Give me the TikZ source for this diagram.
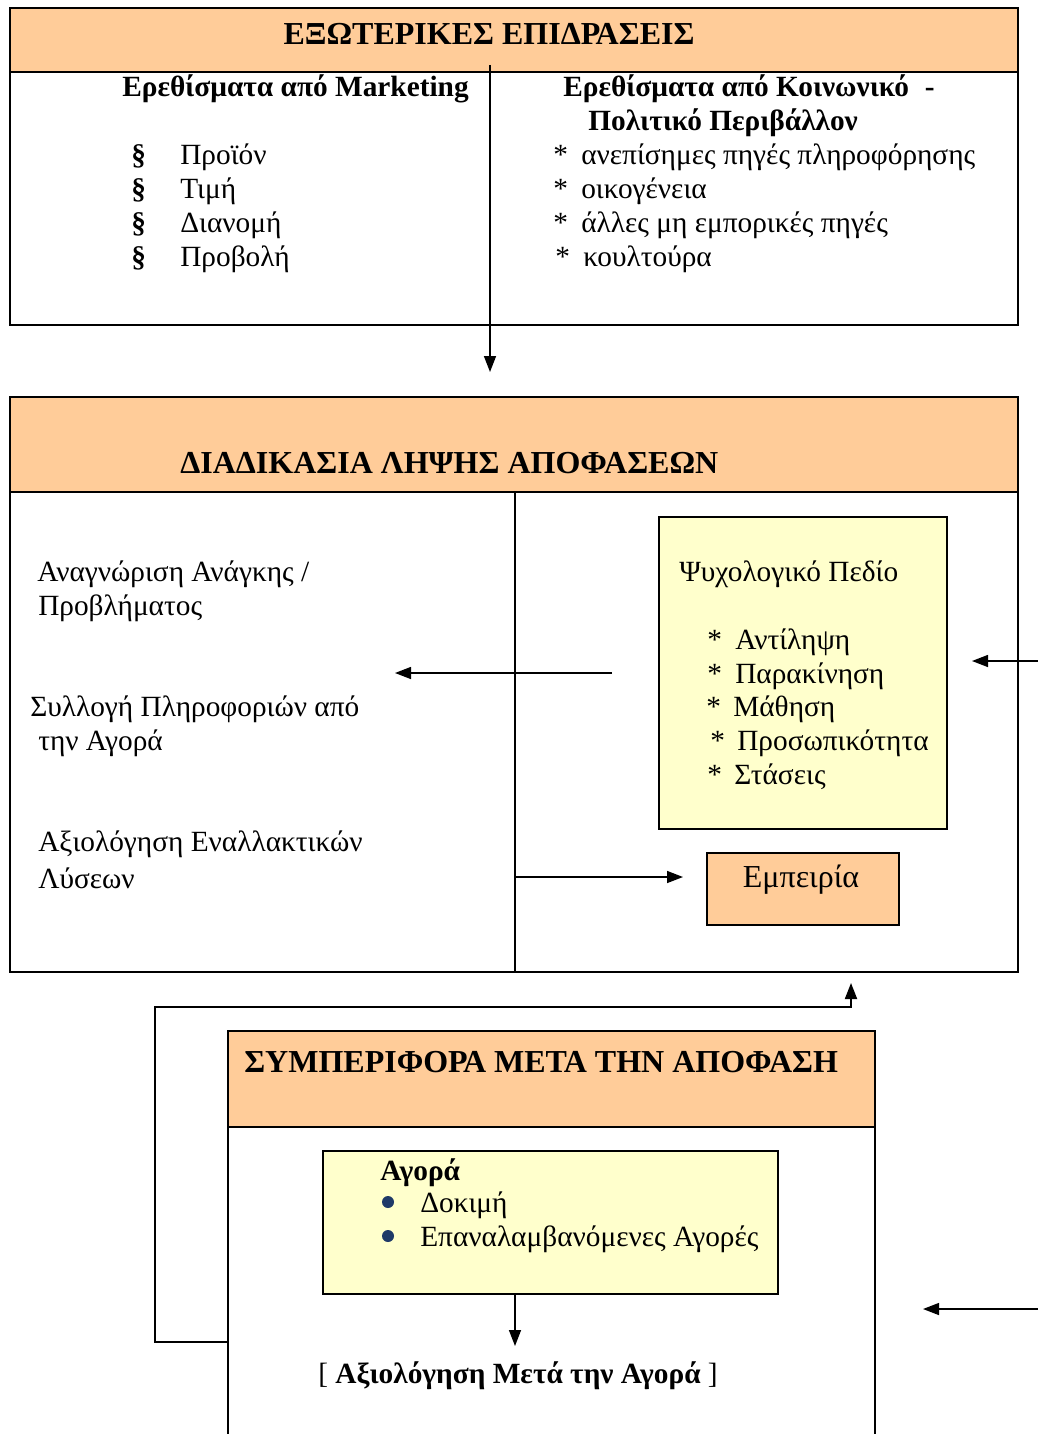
\documentclass[tikz,border=0pt]{standalone}
\usepackage{fontspec}
\setmainfont{Liberation Serif}
\usetikzlibrary{arrows.meta}
\definecolor{peach}{HTML}{FFCC99}
\definecolor{paleyellow}{HTML}{FFFFCC}
\definecolor{navy}{HTML}{1F3A68}
\begin{document}
\begin{tikzpicture}[x=0.75pt,y=-0.75pt,
  frame/.style={draw=black,line width=1.5pt},
  band/.style={frame,fill=peach},
  txt/.style={anchor=base west,inner sep=0pt,font=\fontsize{22}{26}\selectfont},
  btxt/.style={anchor=base west,inner sep=0pt,font=\fontsize{22}{26}\selectfont\bfseries},
  head/.style={anchor=base west,inner sep=0pt,font=\fontsize{24}{28}\selectfont\bfseries},
  conn/.style={draw=black,line width=1.1pt,-{Triangle[length=12pt,width=9pt]}},
  dot/.style={circle,fill=navy,inner sep=0pt,minimum size=9pt}
]
\useasboundingbox (0,0) rectangle (1038,1434);

% ---------- external influences ----------
\draw[frame] (10,8) rectangle (1018,325);
\filldraw[band] (10,8) rectangle (1018,72);
\node[head,anchor=base] (extTitle) at (489,45) {ΕΞΩΤΕΡΙΚΕΣ ΕΠΙΔΡΑΣΕΙΣ};

\node[btxt] (mktHead) at (122,97) {Ερεθίσματα από Marketing};
\node[btxt] (s1) at (131,165) {§}; \node[txt] (m1) at (180,165) {Προϊόν};
\node[btxt] (s2) at (131,199) {§}; \node[txt] (m2) at (180,199) {Τιμή};
\node[btxt] (s3) at (131,232) {§}; \node[txt] (m3) at (180,232) {Διανομή};
\node[btxt] (s4) at (131,266) {§}; \node[txt] (m4) at (180,266) {Προβολή};

\node[btxt] (socHead) at (563,97) {Ερεθίσματα από Κοινωνικό\hspace{12pt}-};
\node[btxt] (socHead2) at (588,131) {Πολιτικό Περιβάλλον};
\node[txt] (a1) at (553,165) {*}; \node[txt] (k1) at (581,165) {ανεπίσημες πηγές πληροφόρησης};
\node[txt] (a2) at (553,199) {*}; \node[txt] (k2) at (581,199) {οικογένεια};
\node[txt] (a3) at (553,232) {*}; \node[txt] (k3) at (581,232) {άλλες μη εμπορικές πηγές};
\node[txt] (a4) at (555,266) {*}; \node[txt] (k4) at (583,266) {κουλτούρα};

\coordinate (extDrop) at (490,65);
\coordinate (decIn) at (490,372);
\draw[conn] (extDrop) -- (decIn);

% ---------- decision process ----------
\draw[frame] (10,397) rectangle (1018,972);
\filldraw[band] (10,397) rectangle (1018,492);
\node[head] (decTitle) at (180,473) {ΔΙΑΔΙΚΑΣΙΑ ΛΗΨΗΣ ΑΠΟΦΑΣΕΩΝ};
\draw[frame] (515,492) -- (515,972);

\node[txt] (d1a) at (37,581) {Αναγνώριση Ανάγκης /};
\node[txt] (d1b) at (38,615) {Προβλήματος};
\node[txt] (d2a) at (30,716) {Συλλογή Πληροφοριών από};
\node[txt] (d2b) at (38,750) {την Αγορά};
\node[txt] (d3a) at (38,851) {Αξιολόγηση Εναλλακτικών};
\node[txt] (d3b) at (38,888) {Λύσεων};

\filldraw[frame,fill=paleyellow] (659,517) rectangle (947,829);
\node[txt] (psyTitle) at (679,581) {Ψυχολογικό Πεδίο};
\node[txt] (p1s) at (707,649) {*}; \node[txt] (p1) at (735,649) {Αντίληψη};
\node[txt] (p2s) at (707,683) {*}; \node[txt] (p2) at (735,683) {Παρακίνηση};
\node[txt] (p3s) at (706,716) {*}; \node[txt] (p3) at (733,716) {Μάθηση};
\node[txt] (p4s) at (710,750) {*}; \node[txt] (p4) at (737,750) {Προσωπικότητα};
\node[txt] (p5s) at (707,784) {*}; \node[txt] (p5) at (734,784) {Στάσεις};

\filldraw[band] (707,853) rectangle (899,925);
\node[txt,anchor=base,font=\fontsize{24}{28}\selectfont] (exp) at (801,887) {Εμπειρία};

\coordinate (psyOut) at (612,673);
\coordinate (stepsIn) at (395,673);
\draw[conn] (psyOut) -- (stepsIn);
\coordinate (divSplit) at (515,877);
\coordinate (expIn) at (683,877);
\draw[conn] (divSplit) -- (expIn);
\coordinate (rightSrcA) at (1038,661);
\coordinate (psyIn) at (972,661);
\draw[conn] (rightSrcA) -- (psyIn);

% ---------- post-decision behaviour ----------
\coordinate (fbStart) at (228,1342);
\coordinate (fbLow) at (155,1342);
\coordinate (fbHigh) at (155,1007);
\coordinate (fbTurn) at (851,1007);
\coordinate (fbTip) at (851,983);
\draw[conn,line width=1.4pt] (fbStart) -- (fbLow) -- (fbHigh) -- (fbTurn) -- (fbTip);

\begin{scope}
\clip (0,0) rectangle (1038,1434);
\draw[frame] (228,1440) -- (228,1031) -- (875,1031) -- (875,1440);
\end{scope}
\filldraw[band] (228,1031) rectangle (875,1127);
\node[head] (postTitle) at (244,1072) {ΣΥΜΠΕΡΙΦΟΡΑ ΜΕΤΑ ΤΗΝ ΑΠΟΦΑΣΗ};

\filldraw[frame,fill=paleyellow] (323,1151) rectangle (778,1294);
\node[btxt] (buyHead) at (380,1180) {Αγορά};
\node[dot] (b1) at (388,1202) {}; \node[txt] (buy1) at (420,1212) {Δοκιμή};
\node[dot] (b2) at (388,1236) {}; \node[txt] (buy2) at (420,1246) {Επαναλαμβανόμενες Αγορές};

\coordinate (buyOut) at (515,1294);
\coordinate (evalIn) at (515,1346);
\draw[conn] (buyOut) -- (evalIn);
\node[txt] (evalText) at (318,1383) {[ \textbf{Αξιολόγηση Μετά την Αγορά} ]};

\coordinate (rightSrcB) at (1038,1309);
\coordinate (postIn) at (923,1309);
\draw[conn] (rightSrcB) -- (postIn);
\end{tikzpicture}
\end{document}
